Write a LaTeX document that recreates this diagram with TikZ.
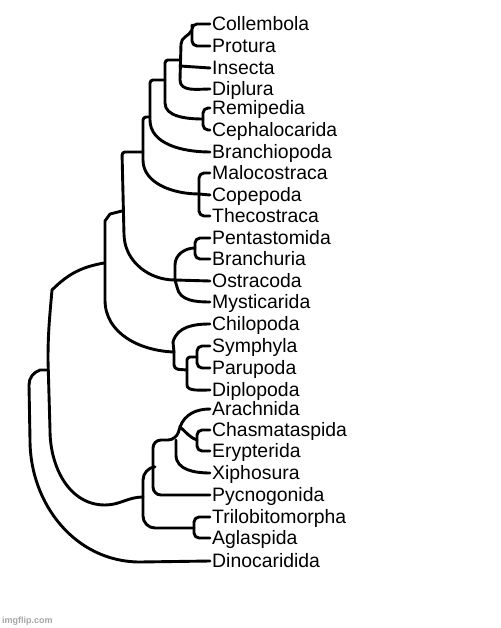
\documentclass[tikz,border=0pt]{standalone}
\usepackage{fontspec}
\setmainfont{Liberation Sans}
\begin{document}
\begin{tikzpicture}[x=1pt, y=-1pt,
  branch/.style={line width=2.9pt, line cap=round, line join=round},
  bracket/.style={branch, rounded corners=5pt},
  taxon/.style={anchor=west, inner ysep=0pt, inner xsep=2pt, text height=13.8pt, text depth=0pt, font=\fontsize{19.4}{20}\selectfont}]

  \useasboundingbox[fill=white] (0,0) rectangle (500,628);

  % --- 1. 分類群のラベル ---
  \node[taxon] (col) at (210,24)  {Collembola};
  \node[taxon] (pro) at (210,46)  {Protura};
  \node[taxon] (ins) at (210,68)  {Insecta};
  \node[taxon] (dpl) at (210,89)  {Diplura};
  \node[taxon] (rem) at (210,108) {Remipedia};
  \node[taxon] (cep) at (210,130) {Cephalocarida};
  \node[taxon] (bra) at (210,152) {Branchiopoda};
  \node[taxon] (mal) at (210,173) {Malocostraca};
  \node[taxon] (cop) at (210,195) {Copepoda};
  \node[taxon] (the) at (210,216) {Thecostraca};
  \node[taxon] (pen) at (210,238) {Pentastomida};
  \node[taxon] (brn) at (210,259) {Branchuria};
  \node[taxon] (ost) at (210,281) {Ostracoda};
  \node[taxon] (mys) at (210,302) {Mysticarida};
  \node[taxon] (chi) at (210,324) {Chilopoda};
  \node[taxon] (sym) at (210,346) {Symphyla};
  \node[taxon] (par) at (210,368) {Parupoda};
  \node[taxon] (dpo) at (210,390) {Diplopoda};
  \node[taxon] (ara) at (210,409) {Arachnida};
  \node[taxon] (cha) at (210,430) {Chasmataspida};
  \node[taxon] (ery) at (210,451) {Erypterida};
  \node[taxon] (xip) at (210,473) {Xiphosura};
  \node[taxon] (pyc) at (210,495) {Pycnogonida};
  \node[taxon] (tri) at (210,517) {Trilobitomorpha};
  \node[taxon] (agl) at (210,538) {Aglaspida};
  \node[taxon] (din) at (210,561) {Dinocaridida};

  % --- 2. 分岐点 ---
  \coordinate (cp)  at (192,30);
  \coordinate (rc)  at (203,119);
  \coordinate (mct) at (199,194);
  \coordinate (pb)  at (195,248);
  \coordinate (onode) at (175,280);
  \coordinate (cnode) at (174,352);
  \coordinate (sp)  at (197,357);
  \coordinate (inode) at (180,427);
  \coordinate (ce)  at (197,440);
  \coordinate (ta)  at (194,528);

  % --- 3. 上の枝 (六脚類・甲殻類) ---
  \draw[bracket] (col.west) -| (cp) |- (pro.west);
  \draw[branch] (cp) to[out=-115,in=90] (181,44) -- (180,80) to[out=-90,in=180] (dpl.west);
  \draw[branch] (180,66) -- (ins.west);
  \draw[branch, rounded corners=3pt] (180,60) -- (165,60) -- (165,100) to[out=-90,in=180] (rc);
  \draw[bracket] (rem.west) -| (rc) |- (cep.west);
  \draw[branch, rounded corners=3pt] (165,80) -- (150,80) -- (150,117) to[out=-90,in=180] (bra.west);
  \draw[branch, rounded corners=3pt] (150,117) -- (143,117) -- (143,157) to[out=-90,in=180] (mct);
  \draw[bracket] (mal.west) -| (mct) |- (the.west);
  \draw[branch] (mct) -- (cop.west);

  % --- 4. 中段の枝 ---
  \draw[branch, rounded corners=3pt] (143,152) -- (122,152) -- (124,235) to[out=-85,in=180] (onode);
  \draw[branch] (onode) -- (ost.west);
  \draw[branch] (onode) -- (175,265) to[out=90,in=180] (pb);
  \draw[bracket] (pen.west) -| (pb) |- (brn.west);
  \draw[branch] (onode) -- (177,287) to[out=-80,in=180] (mys.west);
  \draw[branch] (122,211) -- (110,214) -- (105,221) -- (105,300) to[out=-90,in=178] (cnode);
  \draw[branch] (cnode) -- (173,342) to[out=75,in=180] (chi.west);
  \draw[branch, rounded corners=4pt] (cnode) -- (174,369) -- (187,370);
  \draw[branch, rounded corners=3pt] (sp) -- (187,357) -- (187,382) to[out=-90,in=180] (dpo.west);
  \draw[bracket] (sym.west) -| (sp) |- (par.west);

  % --- 5. 下の枝 (鋏角類など) ---
  \draw[branch] (104,263) to[out=190,in=45] (52,290) to[out=-95,in=90] (48,360) -- (50,430)
    to[out=-90,in=180] (105,505) to[out=0,in=180] (143,497);
  \draw[branch, rounded corners=12pt] (153,467) -- (143,468) |- (ta);
  \draw[bracket] (tri.west) -| (ta) |- (agl.west);
  \draw[branch, rounded corners=8pt] (inode) -- (176,440) -- (153,440) |- (pyc.west);
  \draw[branch] (inode) to[out=70,in=180] (ara.west);
  \draw[branch] (inode) to[out=-40,in=160] (ce);
  \draw[bracket] (cha.west) -| (ce) |- (ery.west);
  \draw[branch] (176,440) -- (176,455) to[out=-90,in=180] (xip.west);

  % --- 6. 根 ---
  \draw[branch] (48,370) -- (40,370) to[out=200,in=90] (29,385) -- (30,440)
    to[out=-90,in=180] (140,562) -- (din.west);

  % --- 7. 透かし ---
  \node[anchor=west, inner sep=0pt, text=gray!70, font=\bfseries\fontsize{9}{10}\selectfont] (wm) at (2,621) {imgflip.com};

\end{tikzpicture}
\end{document}
